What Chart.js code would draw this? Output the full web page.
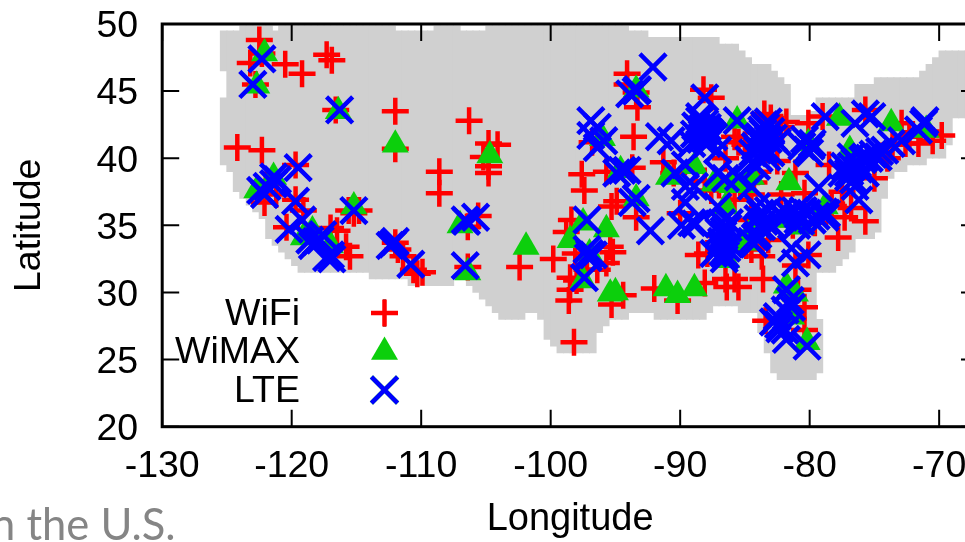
<!DOCTYPE html>
<html>
<head>
<meta charset="utf-8">
<title>Latitude / Longitude</title>
<script src="https://cdn.jsdelivr.net/npm/chart.js@4"></script>
<style>
html,body{margin:0;padding:0;background:#fff;overflow:hidden;width:965px;height:542px}
#wrap{position:relative;width:965px;height:542px;overflow:hidden}
#plot{position:absolute;left:0;top:0}
#caption{position:absolute;left:-9px;top:498px;font:43.5px/50px Lato,sans-serif;color:#858585;white-space:nowrap}
</style>
</head>
<body>
<div id="wrap">
  <canvas id="plot" width="985" height="542"></canvas>
  <div id="caption">n the U.S.</div>
</div>
<script>
// ===== AXES =====
const xTicks=[-130,-120,-110,-100,-90,-80,-70];
const yTicks=[20,25,30,35,40,45,50];
const legendNames=["WiFi","WiMAX","LTE"];

// ===== LAND MASK (half degree columns) =====
const landLon=[
-125.25,-124.75,-124.25,-123.75,-123.25,-122.75,-122.25,-121.75,-121.25,-120.75,
-120.25,-119.75,-119.25,-118.75,-118.25,-117.75,-117.25,-116.75,-116.25,-115.75,
-115.25,-114.75,-114.25,-113.75,-113.25,-112.75,-112.25,-111.75,-111.25,-110.75,
-110.25,-109.75,-109.25,-108.75,-108.25,-107.75,-107.25,-106.75,-106.25,-105.75,
-105.25,-104.75,-104.25,-103.75,-103.25,-102.75,-102.25,-101.75,-101.25,-100.75,
-100.25,-99.75,-99.25,-98.75,-98.25,-97.75,-97.25,-96.75,-96.25,-95.75,
-95.25,-94.75,-94.25,-93.75,-93.25,-92.75,-92.25,-91.75,-91.25,-90.75,
-90.25,-89.75,-89.25,-88.75,-88.25,-87.75,-87.25,-86.75,-86.25,-85.75,
-85.25,-84.75,-84.25,-83.75,-83.25,-82.75,-82.25,-81.75,-81.25,-80.75,
-80.25,-79.75,-79.25,-78.75,-78.25,-77.75,-77.25,-76.75,-76.25,-75.75,
-75.25,-74.75,-74.25,-73.75,-73.25,-72.75,-72.25,-71.75,-71.25,-70.75,
-70.25,-69.75,-69.25,-68.75,-68.25,-67.75,-67.25,
-125.25,-79.25];
const landNorth=[
49.5,49.5,49.5,49.85,49.85,49.85,49.85,49.85,49.5,49.85,
49.85,49.85,49.85,49.85,49.85,49.85,49.85,49.85,49.85,49.85,
49.85,49.85,49.85,49.85,49.85,49.85,49.85,49.5,49.5,49.5,
49.5,49.5,49.5,49.85,49.85,49.85,49.85,49.5,49.5,49.5,
49.5,49.85,49.85,49.85,49.85,49.85,49.85,49.85,49.85,49.85,
49.85,49.85,49.85,49.85,49.85,49.85,49.85,49.85,49.85,49.85,
49.85,49.85,49.85,49.5,49.5,49.5,49,49,49,49,
49,49,49,49,49,49,49,48.5,48.5,48.5,
48,47.5,47,47,47,46.5,46,45.5,43.2,43.2,
43.2,43.5,44.5,44.5,44.5,44.5,44.5,44.5,45.5,45.5,
45.5,46,46,46,46,46,46,46,46.5,47,
47.5,48,48,48,48,48,48,
44.5,28];
const landSouth=[
46.5,39,37.5,37,36.5,36,35.5,34,33.5,33,
32.5,32,31.5,31.5,31.5,31.5,31.5,31.5,31.5,31.5,
31.5,31.5,31.5,31,31,31,31,31,31,30.5,
30.5,30.5,30.5,30.5,30.5,30.5,31,31,30.5,30,
29.5,29,28.5,28,28,28,28,28.5,28.5,28,
26.5,26,25.5,25.5,25.5,25.5,25.5,25.5,27,27.5,
28,28,28,28.5,28.5,28.5,28.5,28,28,28,
28,28,28,28,28,28.5,29,29,29,29,
28.5,28.5,28.5,27,25.5,24,23.5,23.5,23.5,23.5,
23.5,23.5,31.5,31.5,31.5,32,32.5,33,34,34,
34,34.5,37,38.5,39,39,39.5,39.5,39.5,40,
40,40,41,43,43,43,43,
39.5,24];

// ===== SITES =====
const wifiLon=[-122.5,-117.3,-116.9,-120.5,-119.2,-112.0,-124.2,-122.3,-112.0,-116.6,-122.8,-122.3,-123.2,-119.7,-122.0,
-121.2,-122.1,-119.7,-119.1,-115.5,-117.0,-120.4,-116.5,-115.8,-110.6,-110.3,-111.8,-111.4,-112.0,-109.9,-115.2,-115.6,-114.8,
-106.3,-104.8,-104.1,-105.2,-104.8,-104.8,-108.6,-93.6,-94.1,-94.1,-93.3,-93.4,-97.6,-95.7,-93.7,-91.3,-90.5,-96.8,
-108.6,-106.4,-105.6,-106.4,-102.4,-99.8,-97.4,-98.6,-98.2,-98.5,-98.0,-98.5,-95.3,-93.4,-94.9,-95.4,-95.2,-95.7,-97.2,-96.4,-98.1,-98.8,-98.4,-94.4,-95.3,-92.0,-90.2,-88.6,-90.0,
-75.7,-77.8,-80.1,-81.1,-83.6,-85.5,-86.4,-85.8,-86.5,-88.1,-87.9,-82.2,-84.5,-85.8,-84.5,-83.2,-84.5,-80.9,-80.4,-83.4,-80.4,-87.6,-76.8,-80.4,
-88.2,-87.6,-83.5,-82.2,-80.1,-79.0,-75.7,-69.8,-70.5,-72.9,-85.8,-85.5,-81.1,-72.6,-71.6,-86.5,-87.0,-84.0,-83.0,-78.5,-77.5,-75.0,-74.0,
-83.0,-81.8,-85.0,-82.5,-79.6,-81.3,-84.9,-83.7,-86.9,-88.1,-86.2,-84.3,-78.3,-77.3,-75.0,-73.6,-72.3,-71.0];
const wifiLat=[48.8,47.7,47.3,47.0,46.3,43.5,40.8,40.6,40.7,43.6,45.5,47.8,47.1,39.5,38.0,
37.3,36.7,36.9,36.1,32.7,34.8,34.85,34.6,33.4,31.7,31.4,33.2,32.7,33.7,31.5,35.9,36.1,36.1,
42.8,41.1,41.0,40.1,39.4,38.9,39.0,41.6,46.3,45.5,43.8,44.9,38.8,39.0,39.3,39.7,38.9,41.2,
37.4,34.9,35.7,31.9,31.9,32.5,37.6,29.4,26.3,30.2,30.9,31.1,36.4,35.6,36.8,33.4,33.0,32.2,31.7,31.7,32.9,34.5,35.4,29.8,29.1,30.3,29.4,32.8,35.9,
35.3,34.1,32.8,32.0,31.0,30.4,30.4,31.0,31.0,30.7,32.9,37.3,37.3,36.9,35.4,33.9,33.2,30.2,28.9,27.9,27.2,37.6,36.3,37.4,
45.1,44.5,43.3,42.3,42.6,43.1,43.6,41.7,41.3,42.6,41.6,41.2,38.9,41.1,41.1,40.0,38.0,39.0,41.5,39.5,37.5,38.5,40.0,
43.0,42.7,41.0,39.8,35.2,35.0,33.5,32.7,34.2,38.3,38.0,38.2,36.6,35.6,39.9,41.0,41.6,42.0];

const wimaxLon=[-122.1,-122.7,-116.4,-112.0,-121.4,-115.2,-118.4,-117.0,-119.1,-122.7,-104.7,-93.4,-96.0,-94.6,-90.9,
-107.0,-106.4,-101.9,-97.5,-98.5,-95.7,-93.4,-97.0,-97.5,-95.4,-95.0,-91.1,-90.2,-88.9,
-85.6,-77.7,-73.7,-71.0,-81.6,-76.9,-80.1,-84.5,-88.9,-87.4,-86.0,-85.1,-86.5,-85.0,-86.4,-81.8,-81.1,-81.4,-80.2,-78.8,-80.6,-84.5,-81.9];
const wimaxLat=[47.8,45.4,43.5,41.0,38.6,36.4,34.6,33.5,34.1,37.6,40.2,45.1,41.5,39.1,38.6,
35.0,31.5,33.4,35.2,33.9,34.7,37.0,32.9,30.9,29.9,30.0,30.3,29.8,30.3,
42.8,43.0,42.6,42.1,38.2,40.6,41.1,38.6,39.4,38.1,38.0,38.0,36.4,33.7,32.4,30.5,29.9,28.2,26.3,36.4,34.9,34.6,35.4];

const lteLon=[-122.3,-123.0,-116.3,-119.5,-121.4,-121.9,-121.4,-122.1,-122.4,-121.1,-119.7,-119.2,-120.2,-118.6,-118.1,-117.6,-118.4,-117.8,-117.0,-117.3,-116.9,-115.2,-112.2,-112.4,-112.0,-110.8,
-92.1,-93.4,-93.9,-93.3,-96.9,-96.4,-96.9,-95.9,-96.4,-94.5,-94.9,-94.1,-91.6,-90.7,-89.6,-90.4,-88.5,
-106.6,-105.8,-106.5,-106.6,-97.2,-93.7,-93.4,-92.3,-89.9,-89.1,-97.0,-97.2,-96.7,-97.1,-97.4,
-88.1,-85.6,-88.5,-88.3,-87.6,-88.9,-88.1,-87.9,-87.1,-89.1,-83.5,-83.2,-83.7,-83.8,-84.7,-83.5,-83.0,-84.1,-85.5,-87.1,-80.2,-79.8,-78.8,-75.7,-75.2,-76.5,-71.2,-71.6,-71.1,-72.9,-73.7,-74.2,-74.7,-76.8,-77.3,-76.8,-76.3,-75.7,-77.5,-75.7,
-77.0,-76.2,-76.5,-79.3,-78.8,-79.8,-81.1,-80.9,-81.7,-82.4,-83.2,-83.7,-84.2,-84.5,-83.8,-84.1,-86.7,-86.8,-86.4,-86.7,-86.5,-86.3,-86.8,-87.1,-88.8,-88.9,-89.6,-86.5,-84.5,-81.4,-80.2,-81.1,
-81.8,-81.5,-81.4,-81.9,-82.5,-82.8,-82.4,-81.9,-81.8,-80.2,-82.3,
-88.6,-88.0,-87.8,-88.4,-87.4,-88.8,-87.7,-88.1,-87.9,-88.3,
-83.4,-83.0,-83.9,-84.2,-83.2,-82.8,-83.6,-84.4,-83.9,-82.5,-83.3,-84.0,
-80.6,-80.0,-80.4,-79.9,
-76.5,-76.9,-76.2,-77.0,-76.6,-75.9,-75.4,-75.1,-74.6,
-84.3,-84.0,-83.9,-81.0,-80.7,-80.9,-82.0,-80.2,-80.5,-79.5,-78.9,-78.7,-83.5,-82.9,-84.0,
-86.6,-86.9,-86.2,-86.6,-87.0,-86.2,-87.4,-89.6];
const lteLat=[47.4,45.5,43.6,39.3,38.6,37.9,38.1,37.3,37.6,38.4,36.8,35.4,34.7,33.9,33.8,34.3,33.5,33.9,32.8,32.6,32.5,36.1,33.6,33.5,33.8,32.1,
46.8,45.0,44.8,45.1,42.8,42.3,41.7,41.3,40.8,39.1,38.9,39.1,41.6,41.3,39.5,38.9,42.8,
35.4,35.6,35.3,32.0,35.4,36.7,37.0,34.6,35.0,35.2,32.9,33.2,32.8,32.6,31.1,
44.5,42.8,43.1,41.8,41.8,41.8,42.6,41.1,40.6,41.1,42.5,42.7,42.1,41.1,39.9,40.6,40.4,39.4,38.6,38.9,40.6,41.1,43.1,43.3,43.1,42.6,42.6,42.1,42.8,41.3,41.1,40.6,40.1,40.1,39.4,39.4,39.6,40.1,38.9,38.9,
38.6,36.9,37.9,37.8,35.6,35.4,36.1,35.4,35.9,35.9,36.1,34.9,34.1,33.8,35.9,36.4,34.3,33.8,33.3,33.0,32.8,34.8,35.2,36.4,35.1,37.9,37.9,38.5,37.9,33.3,32.8,32.2,
30.2,29.4,28.9,28.7,28.2,27.8,27.6,27.2,26.5,26.0,27.3,
42.2,41.4,42.0,41.4,41.6,42.4,41.9,42.0,42.3,42.2,
42.3,42.0,41.6,40.9,41.4,41.5,41.9,40.4,40.0,41.2,40.1,40.6,
40.9,40.4,41.4,40.9,
39.7,39.0,39.2,38.9,38.4,39.9,40.0,40.3,40.5,
33.6,34.3,34.9,35.0,35.3,35.8,35.6,35.9,36.1,35.7,36.0,35.9,35.3,35.0,35.5,
34.6,33.5,33.6,32.5,34.5,35.2,32.9,36.7];

const toPoints=(xs,ys)=>xs.map((x,i)=>({x:x,y:ys[i]}));

// ===== MARKER STYLES =====
const wifiStyle={pointStyle:"cross",radius:13.5,borderWidth:4.5,borderColor:"#ff0000",backgroundColor:"#ff0000"};
const wimaxStyle={pointStyle:"triangle",radius:15.6,borderWidth:0,borderColor:"#0ccf0c",backgroundColor:"#0ccf0c"};
const lteStyle={pointStyle:"crossRot",radius:18.5,borderWidth:4.5,borderColor:"#0000ff",backgroundColor:"#0000ff"};
const FONT="Liberation Sans, Arial, sans-serif";

function markerDataset(label,xs,ys,st,order){
  return {type:"scatter",label:label,data:toPoints(xs,ys),order:order,showLine:false,
    pointStyle:st.pointStyle,pointRadius:st.radius,pointHoverRadius:st.radius,pointBorderWidth:st.borderWidth,
    pointBorderColor:st.borderColor,pointBackgroundColor:st.backgroundColor};
}

// gnuplot frame: inward ticks on all four sides, and the key inside the plot
const framePlugin={
  id:"frame",
  beforeDraw(chart){
    // y labels sit a little lower than canvas "middle"
    chart.scales.y.getLabelItems().forEach(it=>{if(!it.moved){it.textOffset+=3;it.moved=true;}});
  },
  afterDraw(chart){
    const {ctx,chartArea:a,scales:{x,y}}=chart;
    ctx.save();
    ctx.strokeStyle="#000";
    ctx.lineWidth=2;
    ctx.beginPath();
    xTicks.forEach(v=>{const p=x.getPixelForValue(v);ctx.moveTo(p,a.bottom);ctx.lineTo(p,a.bottom-17);ctx.moveTo(p,a.top);ctx.lineTo(p,a.top+17);});
    yTicks.forEach(v=>{const p=y.getPixelForValue(v);ctx.moveTo(a.left,p);ctx.lineTo(a.left+17,p);ctx.moveTo(a.right,p);ctx.lineTo(a.right-17,p);});
    ctx.stroke();
    ctx.lineWidth=3;
    ctx.strokeRect(a.left,a.top,a.right-a.left,a.bottom-a.top);
    ctx.fillStyle="#000";
    ctx.font="37.5px "+FONT;
    ctx.textAlign="right";
    ctx.textBaseline="alphabetic";
    const styles=[wifiStyle,wimaxStyle,lteStyle],textY=[325,363,402],markY=[313,352,390];
    legendNames.forEach((name,i)=>{
      ctx.fillText(name,300,textY[i]);
      ctx.fillStyle=styles[i].backgroundColor;
      Chart.helpers.drawPoint(ctx,{pointStyle:styles[i].pointStyle,radius:styles[i].radius,rotation:0,borderWidth:styles[i].borderWidth},384.5,markY[i]);
      ctx.strokeStyle=styles[i].borderColor;
      ctx.lineWidth=styles[i].borderWidth;
      if(styles[i].borderWidth)ctx.stroke();
      ctx.fillStyle="#000";
    });
    ctx.restore();
  }
};

new Chart(document.getElementById("plot"),{
  type:"bar",
  data:{datasets:[
    {label:"land",data:landLon.map((x,i)=>({x:x,y:[landSouth[i],landNorth[i]]})),backgroundColor:"#d0d0d0",borderWidth:0,barThickness:7,order:3},
    markerDataset("WiFi",wifiLon,wifiLat,wifiStyle,2),
    markerDataset("WiMAX",wimaxLon,wimaxLat,wimaxStyle,1),
    markerDataset("LTE",lteLon,lteLat,lteStyle,0)
  ]},
  options:{
    responsive:false,animation:false,
    layout:{autoPadding:false,padding:{top:24,right:7,left:0,bottom:0}},
    plugins:{legend:{display:false},tooltip:{enabled:false}},
    scales:{
      x:{type:"linear",min:-130,max:-67,offset:false,
        afterBuildTicks(s){s.ticks=xTicks.map(v=>({value:v}));},
        afterFit(s){s.height=115.3;s.paddingLeft=0;s.paddingRight=0;},
        grid:{display:false},border:{display:false},
        ticks:{autoSkip:false,maxRotation:0,padding:9,color:"#000",font:{family:FONT,size:37.5},callback:v=>String(v)},
        title:{display:true,text:"Longitude",color:"#000",font:{family:FONT,size:38},padding:{top:-8,bottom:0}}},
      y:{type:"linear",min:20,max:50,
        afterBuildTicks(s){s.ticks=yTicks.map(v=>({value:v}));},
        afterFit(s){s.width=162.2;s.paddingTop=0;s.paddingBottom=0;},
        grid:{display:false},border:{display:false},
        ticks:{autoSkip:false,padding:16,color:"#000",font:{family:FONT,size:37.5},callback:v=>String(v)},
        title:{display:true,text:"Latitude",color:"#000",font:{family:FONT,size:37.5},padding:{top:7,bottom:0}}}
    }
  },
  plugins:[framePlugin]
});
</script>
</body>
</html>
